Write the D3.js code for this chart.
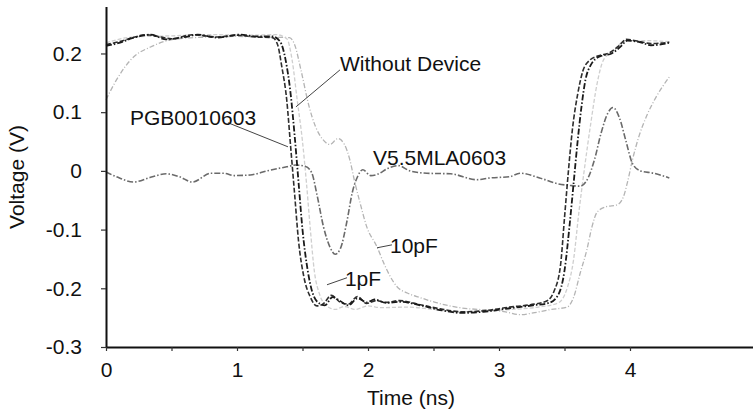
<!DOCTYPE html>
<html>
<head>
<meta charset="utf-8">
<script src="https://cdn.jsdelivr.net/npm/d3@7"></script>
<style>
  body { margin: 0; background: #fff; }
  svg text { font-family: "Liberation Sans", Arial, Helvetica, sans-serif; fill: #111; }
</style>
</head>
<body>
<div id="chart"></div>
<script>
// values: [time (ns), voltage (V)]
const withoutDevice = [[0,0.213],[0.1,0.218],[0.2,0.226],[0.34,0.232],[0.46,0.224],[0.6,0.228],[0.7,0.232],[0.85,0.227],[1.02,0.232],[1.15,0.229],[1.27,0.229],[1.33,0.22],[1.37,0.19],[1.41,0.13],[1.44,0.06],[1.47,-0.02],[1.5,-0.1],[1.54,-0.17],[1.58,-0.21],[1.63,-0.226],[1.67,-0.229],[1.73,-0.215],[1.79,-0.222],[1.85,-0.229],[1.92,-0.217],[1.99,-0.224],[2.05,-0.219],[2.14,-0.225],[2.24,-0.223],[2.4,-0.229],[2.55,-0.237],[2.72,-0.242],[2.88,-0.24],[3.08,-0.234],[3.26,-0.229],[3.38,-0.225],[3.45,-0.212],[3.5,-0.17],[3.54,-0.09],[3.57,-0.02],[3.6,0.05],[3.63,0.11],[3.66,0.155],[3.7,0.18],[3.77,0.195],[3.86,0.2],[3.93,0.212],[3.98,0.222],[4.08,0.219],[4.16,0.214],[4.3,0.218]];
const pgb0010603 = [[0,0.215],[0.1,0.22],[0.22,0.228],[0.3,0.232],[0.42,0.228],[0.5,0.225],[0.66,0.232],[0.85,0.228],[1.0,0.231],[1.15,0.228],[1.27,0.227],[1.31,0.215],[1.34,0.18],[1.38,0.12],[1.41,0.04],[1.44,-0.04],[1.47,-0.12],[1.51,-0.18],[1.56,-0.215],[1.61,-0.23],[1.66,-0.226],[1.72,-0.212],[1.79,-0.224],[1.85,-0.227],[1.92,-0.214],[1.99,-0.226],[2.06,-0.221],[2.14,-0.224],[2.24,-0.221],[2.4,-0.228],[2.55,-0.235],[2.72,-0.24],[2.9,-0.238],[3.08,-0.232],[3.24,-0.228],[3.36,-0.222],[3.42,-0.205],[3.47,-0.16],[3.5,-0.08],[3.53,0.0],[3.56,0.07],[3.6,0.13],[3.64,0.17],[3.69,0.188],[3.76,0.196],[3.85,0.202],[3.92,0.214],[3.97,0.224],[4.08,0.22],[4.16,0.217],[4.3,0.219]];
const cap1pF = [[0,0.218],[0.2,0.228],[0.5,0.23],[0.8,0.232],[1.1,0.231],[1.3,0.232],[1.38,0.225],[1.42,0.19],[1.46,0.12],[1.5,0.05],[1.53,-0.02],[1.56,-0.1],[1.59,-0.17],[1.63,-0.21],[1.68,-0.229],[1.75,-0.236],[1.82,-0.231],[1.9,-0.236],[2.0,-0.23],[2.1,-0.233],[2.3,-0.232],[2.5,-0.236],[2.7,-0.24],[2.9,-0.238],[3.1,-0.236],[3.3,-0.232],[3.45,-0.225],[3.52,-0.2],[3.57,-0.15],[3.61,-0.07],[3.65,0.0],[3.7,0.08],[3.75,0.15],[3.8,0.19],[3.88,0.205],[3.96,0.222],[4.1,0.222],[4.3,0.22]];
const cap10pF = [[0,0.121],[0.08,0.155],[0.21,0.194],[0.34,0.211],[0.47,0.222],[0.6,0.226],[0.8,0.228],[1.0,0.229],[1.2,0.228],[1.4,0.227],[1.44,0.215],[1.49,0.17],[1.55,0.11],[1.6,0.075],[1.65,0.055],[1.71,0.045],[1.77,0.055],[1.82,0.045],[1.86,0.02],[1.9,-0.02],[1.94,-0.055],[1.99,-0.095],[2.07,-0.13],[2.12,-0.157],[2.17,-0.18],[2.22,-0.197],[2.3,-0.208],[2.4,-0.216],[2.53,-0.225],[2.7,-0.233],[2.9,-0.237],[3.05,-0.24],[3.16,-0.245],[3.26,-0.242],[3.4,-0.236],[3.52,-0.232],[3.57,-0.215],[3.62,-0.174],[3.67,-0.135],[3.71,-0.095],[3.75,-0.07],[3.82,-0.061],[3.9,-0.058],[3.95,-0.044],[3.98,-0.02],[4.02,0.02],[4.07,0.06],[4.13,0.095],[4.2,0.126],[4.3,0.16]];
const v55mla0603 = [[0,-0.002],[0.08,-0.01],[0.21,-0.019],[0.34,-0.011],[0.46,-0.005],[0.56,-0.01],[0.66,-0.019],[0.8,-0.004],[0.9,-0.004],[0.98,-0.008],[1.1,-0.007],[1.23,0.0],[1.38,0.007],[1.45,0.01],[1.52,0.008],[1.57,-0.003],[1.61,-0.04],[1.66,-0.095],[1.71,-0.13],[1.75,-0.142],[1.79,-0.132],[1.84,-0.085],[1.88,-0.037],[1.92,-0.01],[1.96,0.002],[2.02,-0.008],[2.07,-0.006],[2.15,0.004],[2.23,0.009],[2.32,0.0],[2.45,-0.004],[2.63,-0.005],[2.83,-0.015],[2.93,-0.012],[3.08,-0.01],[3.16,-0.004],[3.31,-0.012],[3.45,-0.022],[3.55,-0.025],[3.62,-0.026],[3.68,-0.012],[3.73,0.02],[3.78,0.065],[3.83,0.098],[3.87,0.108],[3.92,0.09],[3.97,0.05],[4.02,0.012],[4.08,0.0],[4.18,-0.004],[4.3,-0.012]];

const xTicks = [0, 1, 2, 3, 4];
const xMinorTicks = [0.5, 1.5, 2.5, 3.5];
const yTicks = [-0.3, -0.2, -0.1, 0, 0.1, 0.2];
const yTickLabels = ["-0.3", "-0.2", "-0.1", "0", "0.1", "0.2"];

// label text, label position [t, v], leader line [[t, v], [t, v]] or null
const labelNames = ["Without Device", "PGB0010603", "V5.5MLA0603", "10pF", "1pF"];
const labelPos = [[1.786, 0.170], [0.183, 0.078], [2.038, 0.010], [2.168, -0.140], [1.824, -0.196]];
const labelLeaders = [
    [[1.786, 0.172], [1.450, 0.109]],
    [[0.931, 0.082], [1.389, 0.041]],
    null,
    [[2.069, -0.131], [2.183, -0.126]],
    [[1.687, -0.194], [1.840, -0.182]]
];

const width = 753, height = 413;

const svg = d3.select("#chart")
    .append("svg")
    .attr("width", width)
    .attr("height", height);

const x = d3.scaleLinear().domain([0, 5]).range([106, 761]);
const y = d3.scaleLinear().domain([-0.3, 0.28]).range([347, 6.5]);

const line = d3.line()
    .x(d => x(d[0]))
    .y(d => y(d[1]))
    .curve(d3.curveMonotoneX);

// traces, lightest first so the dark ones sit on top
const traces = [
    {data: cap10pF, color: "#b4b4b4", w: 1.3, dash: "5,2,1,2"},
    {data: cap1pF, color: "#cfcfcf", w: 1.3, dash: "4,2"},
    {data: v55mla0603, color: "#6a6a6a", w: 1.6, dash: "6,2,1.5,2"},
    {data: pgb0010603, color: "#2e2e2e", w: 1.6, dash: "5,2"},
    {data: withoutDevice, color: "#1a1a1a", w: 1.8, dash: "6,2,1.5,2"}
];

svg.selectAll(".trace")
    .data(traces)
    .join("path")
    .attr("class", "trace")
    .attr("d", d => line(d.data))
    .attr("fill", "none")
    .attr("stroke", d => d.color)
    .attr("stroke-width", d => d.w)
    .attr("stroke-dasharray", d => d.dash);

// Axes
const yAxis = svg.append("g")
    .attr("transform", `translate(${x(0)},0)`)
    .call(d3.axisLeft(y).tickValues(yTicks).tickFormat((d, i) => yTickLabels[i])
        .tickSize(5).tickSizeOuter(0).tickPadding(19));

const xAxis = svg.append("g")
    .attr("transform", `translate(0,${y(-0.3)})`)
    .call(d3.axisBottom(x).tickValues(xTicks).tickFormat(d3.format("d"))
        .tickSize(4).tickSizeOuter(0).tickPadding(11));

svg.append("g")
    .attr("transform", `translate(0,${y(-0.3)})`)
    .call(d3.axisBottom(x).tickValues(xMinorTicks).tickFormat("")
        .tickSize(4).tickSizeOuter(0))
    .select(".domain").remove();

svg.selectAll(".domain").attr("stroke", "#111").attr("stroke-width", 2);
svg.selectAll(".tick line").attr("stroke", "#333").attr("stroke-width", 1.2);
svg.selectAll(".tick text").style("font-size", "21px").attr("fill", "#111");

// Axis labels
svg.append("text")
    .attr("x", 411)
    .attr("y", 405)
    .style("text-anchor", "middle")
    .style("font-size", "21px")
    .text("Time (ns)");

svg.append("text")
    .attr("transform", "rotate(-90)")
    .attr("x", -177)
    .attr("y", 24)
    .style("text-anchor", "middle")
    .style("font-size", "21px")
    .text("Voltage (V)");

// Trace annotations
labelLeaders.forEach(seg => {
    if (!seg) return;
    svg.append("line")
        .attr("x1", x(seg[0][0])).attr("y1", y(seg[0][1]))
        .attr("x2", x(seg[1][0])).attr("y2", y(seg[1][1]))
        .attr("stroke", "#444")
        .attr("stroke-width", 1);
});

svg.selectAll(".trace-label")
    .data(labelNames)
    .join("text")
    .attr("class", "trace-label")
    .attr("x", (d, i) => x(labelPos[i][0]))
    .attr("y", (d, i) => y(labelPos[i][1]))
    .style("font-size", "21px")
    .text(d => d);
</script>
</body>
</html>
